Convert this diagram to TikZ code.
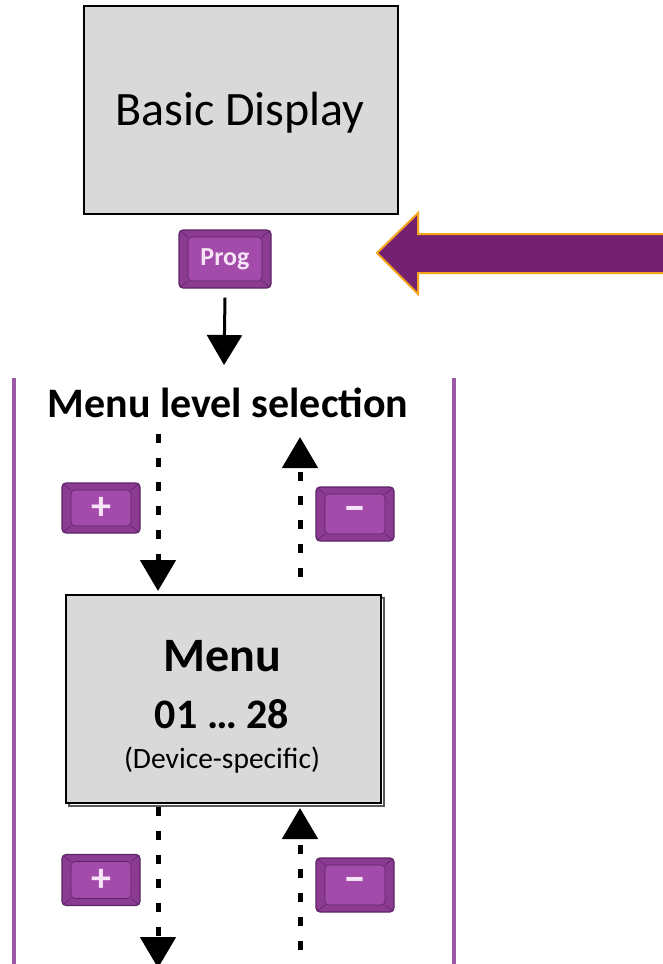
\documentclass[tikz,border=0pt]{standalone}
\usepackage{fontspec}
\setmainfont{Carlito}
\usetikzlibrary{arrows.meta,calc}
\definecolor{boxgray}{HTML}{D9D9D9}
\definecolor{keyface}{HTML}{A24BAA}
\definecolor{keybevel}{HTML}{8C3B93}
\definecolor{keyline}{HTML}{5C2464}
\definecolor{bigpurple}{HTML}{74216F}
\definecolor{bigorange}{HTML}{F5A31A}
\definecolor{sidepurple}{HTML}{9A5AA6}
\definecolor{keytext}{HTML}{F6E4F6}
\tikzset{
  keybox/.style={draw=keyline, line width=1.2pt, fill=keybevel, rounded corners=4pt,
    inner sep=0pt, text=keytext, font=\bfseries,
    path picture={
      \coordinate (ksw) at ($(path picture bounding box.south west)+(9pt,7pt)$);
      \coordinate (kne) at ($(path picture bounding box.north east)+(-9pt,-7pt)$);
      \fill[keyface] (ksw) rectangle (kne);
      \draw[keyline, line width=0.6pt] (ksw) rectangle (kne);
      \draw[keyline, line width=0.6pt]
        (path picture bounding box.south west) -- (ksw)
        (path picture bounding box.north east) -- (kne)
        (path picture bounding box.north west) -- (ksw |- kne)
        (path picture bounding box.south east) -- (kne |- ksw);
    }},
  graybox/.style={draw=black, line width=2pt, fill=boxgray, inner sep=0pt},
  solidarrow/.style={line width=3pt, -{Triangle[width=35pt,length=30pt]}},
  dasharrow/.style={line width=5pt, dash pattern=on 9pt off 15pt, -{Triangle[width=35pt,length=31pt]}},
  sideline/.style={sidepurple, line width=4.5pt},
  plusfont/.style={font=\fontsize{40}{40}\bfseries},
  minusfont/.style={font=\fontsize{46}{46}\bfseries},
}
\begin{document}
\begin{tikzpicture}[x=1pt,y=-1pt]
\useasboundingbox (0,0) rectangle (662,964);
% side lines
\draw[sideline] (14,378) -- (14,970);
\draw[sideline] (454,378) -- (454,970);
% basic display
\node[graybox, minimum width=314pt, minimum height=208pt] (basic) at (241,110) {};
\node[anchor=base, font=\fontsize{48}{52}\selectfont] (basictxt) at (240,125) {Basic Display};
% prog key
\node[keybox, minimum width=92pt, minimum height=58pt, font=\fontsize{26}{28}\bfseries] (prog) at (225,259) {Prog};
% big arrow
\fill[bigpurple, draw=bigorange, line width=2pt]
  (377,253) -- (418,213) -- (418,234) -- (670,234) -- (670,273) -- (418,273) -- (418,294) -- cycle;
% solid arrow
\coordinate (selin) at (224,365);
\draw[solidarrow] ([yshift=-9pt]prog.south) -- (selin);
% title
\node[anchor=base, font=\fontsize{42}{46}\bfseries] (title) at (228,417) {Menu level selection};
% menu box with shadow
\draw[gray!70!black, line width=2pt] (69,598) rectangle (384,806);
\node[graybox, minimum width=315pt, minimum height=208pt] (menu) at (223.5,699) {};
\node[anchor=base, font=\fontsize{48}{52}\bfseries] (m1) at (222,671) {Menu};
\node[anchor=base, font=\fontsize{42}{46}\bfseries] (m2) at (222,728) {01 … 28};
\node[anchor=base, font=\fontsize{29.5}{32}\selectfont] (m3) at (222,768) {(Device-specific)};
% keys
\node[keybox, plusfont, minimum width=78pt, minimum height=50pt] (plus1) at (101,508) {+};
\node[keybox, minusfont, minimum width=78pt, minimum height=54pt] (minus1) at (355,514) {–};
\node[keybox, plusfont, minimum width=78pt, minimum height=51pt] (plus2) at (101,880) {+};
\node[keybox, minusfont, minimum width=78pt, minimum height=54pt] (minus2) at (355,885) {–};
% dashed arrows
\coordinate (d1s) at (158,434);
\coordinate (u1e) at (300,437);
\coordinate (d2e) at (158,968);
\coordinate (u2s) at (300,950);
\draw[dasharrow] (d1s) -- ([yshift=3pt]menu.north -| d1s);
\draw[dasharrow] ([yshift=17pt]menu.north -| u1e) -- (u1e);
\draw[dasharrow] ([yshift=-3pt]menu.south -| d2e) -- (d2e);
\draw[dasharrow] (u2s) -- ([yshift=-4pt]menu.south -| u2s);
\end{tikzpicture}
\end{document}
